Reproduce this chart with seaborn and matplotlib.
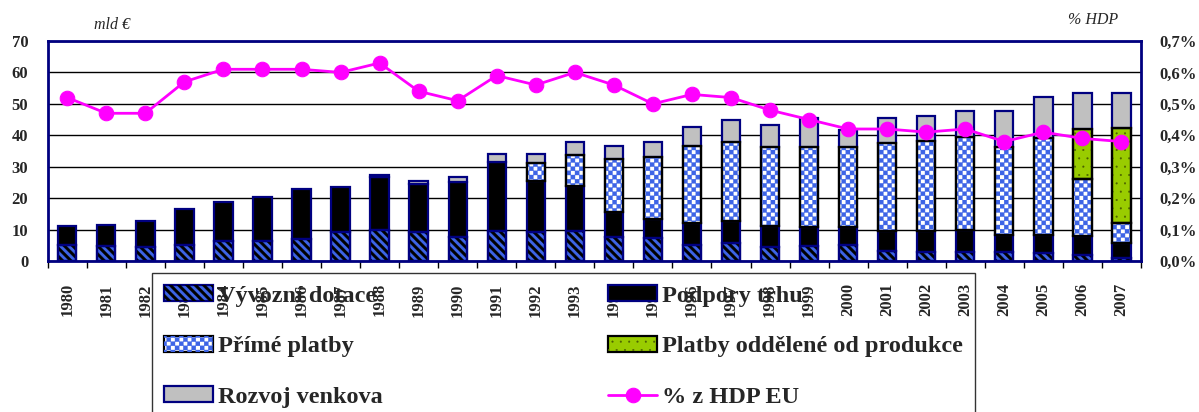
import numpy as np
import matplotlib
matplotlib.use("Agg")
import matplotlib.pyplot as plt
import matplotlib.hatch as mhatch
from matplotlib.path import Path
from matplotlib.legend_handler import HandlerTuple
import seaborn as sns

# ---------------- data ----------------
years = [str(y) for y in range(1980, 2008)]
export_subsidies = [5.1, 4.9, 4.6, 5.0, 6.5, 6.5, 6.9, 9.1, 9.9, 9.3, 7.5, 9.6, 9.3, 9.5,
                    7.7, 7.2, 5.1, 5.6, 4.4, 4.9, 5.0, 3.1, 3.0, 3.0, 2.9, 2.6, 2.0, 0.9]
market_support = [6.0, 6.6, 8.2, 11.4, 12.4, 14.0, 16.0, 14.5, 16.8, 15.1, 17.5, 21.8, 16.3, 14.5,
                  8.0, 6.2, 6.9, 7.2, 6.7, 6.0, 5.8, 6.4, 6.6, 6.9, 5.4, 5.7, 6.0, 4.7]
direct_payments = [0, 0, 0, 0, 0, 0, 0, 0, 0, 0, 0, 0, 5.5, 9.7,
                   16.8, 19.8, 24.7, 25.2, 25.3, 25.5, 25.5, 27.9, 28.7, 29.5, 28.1, 30.7, 18.0, 6.4]
decoupled_payments = [0, 0, 0, 0, 0, 0, 0, 0, 0, 0, 0, 0, 0, 0,
                      0, 0, 0, 0, 0, 0, 0, 0, 0, 0, 0, 0, 15.9, 30.2]
rural_development = [0, 0, 0, 0, 0, 0, 0, 0, 0.6, 1.2, 1.8, 2.5, 2.8, 4.3,
                     4.2, 4.8, 6.0, 6.9, 6.8, 9.0, 5.5, 8.2, 7.8, 8.3, 11.3, 13.3, 11.4, 11.1]
pct_gdp = [0.52, 0.47, 0.47, 0.57, 0.61, 0.61, 0.61, 0.60, 0.63, 0.54, 0.51, 0.59, 0.56, 0.60,
           0.56, 0.50, 0.53, 0.52, 0.48, 0.45, 0.42, 0.42, 0.41, 0.42, 0.38, 0.41, 0.39, 0.38]
series_labels = ["Vývozní dotace", "Podpory trhu", "Přímé platby",
                 "Platby oddělené od produkce", "Rozvoj venkova", "% z HDP EU"]
left_ticks = [0, 10, 20, 30, 40, 50, 60, 70]
right_ticks = [0.0, 0.1, 0.2, 0.3, 0.4, 0.5, 0.6, 0.7]


# ---------------- custom filled hatch patterns ----------------
class CheckerHatch(mhatch.HatchPatternBase):
    """Checkerboard, triggered by 'O'."""
    filled = True

    def __init__(self, hatch, density):
        self.n = int(hatch.count('O') * density)
        self.cells = [(i, j) for i in range(self.n) for j in range(self.n) if (i + j) % 2 == 0]
        self.num_vertices = len(self.cells) * 5

    def set_vertices_and_codes(self, vertices, codes):
        s = 1.0 / self.n
        sq = np.array([[0, 0], [1, 0], [1, 1], [0, 1], [0, 0]], float)
        for k, (i, j) in enumerate(self.cells):
            vertices[5 * k:5 * k + 5] = (sq + [i, j]) * s
            codes[5 * k] = Path.MOVETO
            codes[5 * k + 1:5 * k + 4] = Path.LINETO
            codes[5 * k + 4] = Path.CLOSEPOLY


class StripeHatch(mhatch.HatchPatternBase):
    """Thick filled '\\' stripes, triggered by 'o'."""
    filled = True
    frac = 0.45

    def __init__(self, hatch, density):
        self.n = int(hatch.count('o') * density)
        self.ks = list(range(-2, 2 * self.n + 2)) if self.n else []
        self.num_vertices = len(self.ks) * 5

    def set_vertices_and_codes(self, vertices, codes):
        for m, k in enumerate(self.ks):
            c0 = k / self.n
            c1 = c0 + self.frac / self.n
            vertices[5 * m:5 * m + 5] = [[c0 + 1, -1], [c1 + 1, -1], [-1, c1 + 1],
                                         [-1, c0 + 1], [c0 + 1, -1]]
            codes[5 * m] = Path.MOVETO
            codes[5 * m + 1:5 * m + 4] = Path.LINETO
            codes[5 * m + 4] = Path.CLOSEPOLY


mhatch._hatch_types[mhatch._hatch_types.index(mhatch.LargeCircles)] = CheckerHatch
mhatch._hatch_types[mhatch._hatch_types.index(mhatch.SmallCircles)] = StripeHatch

# ---------------- style ----------------
sns.set_style("white")
plt.rcParams["font.family"] = ["Liberation Serif", "DejaVu Serif"]
plt.rcParams["font.weight"] = "bold"
plt.rcParams["hatch.linewidth"] = 0.25

NAVY = "#000080"
BLUE = "#3D64E6"
GREY = "#C0C0C0"
GREEN = "#99CC00"
MAGENTA = "#FF00FF"

fig = plt.figure(figsize=(11.99, 4.12), dpi=100)
ax = fig.add_axes([0.0398, 0.3665, 0.9118, 0.534])
x = np.arange(len(years))
W = 0.47


def hatched_bar(vals, bottoms, face, edge, hatch=None, hcolor=None, idx=None):
    vals = np.asarray(vals, float)
    bottoms = np.asarray(bottoms, float)
    if idx is None:
        idx = np.arange(len(vals))
    base = ax.bar(x[idx], vals[idx], W, bottom=bottoms[idx], color=face,
                  edgecolor=edge, linewidth=1.6, zorder=2)
    over = None
    if hatch:
        over = ax.bar(x[idx], vals[idx], W, bottom=bottoms[idx], color="none",
                      edgecolor=hcolor, linewidth=0, hatch=hatch, zorder=2.1)
        ax.bar(x[idx], vals[idx], W, bottom=bottoms[idx], color="none",
               edgecolor=edge, linewidth=1.6, zorder=2.2)
    return base, over


b0 = np.zeros(len(years))
b1 = b0 + np.array(export_subsidies)
b2 = b1 + np.array(market_support)
b3 = b2 + np.array(direct_payments)
b4 = b3 + np.array(decoupled_payments)

h_exp = hatched_bar(export_subsidies, b0, BLUE, NAVY, "oo", "black")
h_mkt = hatched_bar(market_support, b1, "black", NAVY)
h_dir = hatched_bar(direct_payments, b2, "white", "black", "OOOO", BLUE,
                    idx=np.nonzero(np.array(direct_payments) > 0)[0])
h_dec = hatched_bar(decoupled_payments, b3, GREEN, "black", "..", "#4A6000",
                    idx=np.nonzero(np.array(decoupled_payments) > 0)[0])
h_rur = hatched_bar(rural_development, b4, GREY, NAVY,
                    idx=np.nonzero(np.array(rural_development) > 0)[0])

ax.set_xlim(-0.5, len(years) - 0.5)
ax.set_ylim(0, 70)
ax.set_yticks(left_ticks)
ax.set_yticklabels([str(t) for t in left_ticks], fontsize=12, fontweight="bold")
ax.set_xticks(x)
ax.set_xticklabels(years, rotation=90, fontsize=12, fontweight="bold")
ax.set_xticks(np.arange(-0.5, len(years)), minor=True)
ax.tick_params(axis="x", which="major", length=0, pad=16, bottom=True)
ax.tick_params(axis="x", which="minor", length=5, width=1, color="black",
               direction="out", bottom=True)
ax.tick_params(axis="y", length=0, pad=14)
ax.yaxis.grid(True, color="black", linewidth=1.0)
ax.xaxis.grid(False)
ax.set_axisbelow(True)
for sp in ax.spines.values():
    sp.set_visible(True)
    sp.set_color(NAVY)
    sp.set_linewidth(2)

ax2 = ax.twinx()
sns.lineplot(x=x, y=pct_gdp, ax=ax2, color=MAGENTA, marker="o", markersize=10.5,
             markeredgecolor=MAGENTA, linewidth=2, legend=False, zorder=5)
ax2.set_ylim(0, 0.7)
ax2.set_yticks(right_ticks)
ax2.set_yticklabels([f"{t:.1f}%".replace(".", ",") for t in right_ticks],
                    fontsize=12, fontweight="bold")
ax2.tick_params(axis="y", length=0, pad=13, right=True)
ax2.set_ylabel("")
for sp in ax2.spines.values():
    sp.set_visible(False)

fig.text(112 / 1199, 1 - 25 / 412, "mld €", style="italic", fontweight="normal",
         fontsize=11.5, ha="center", va="center")
fig.text(1093 / 1199, 1 - 20 / 412, "% HDP", style="italic", fontweight="normal",
         fontsize=11.5, ha="center", va="center")

line_handle = ax2.lines[0]
handles = [(h_exp[0].patches[0], h_exp[1].patches[0]),
           (h_dir[0].patches[0], h_dir[1].patches[0]),
           h_rur[0].patches[0],
           h_mkt[0].patches[0],
           (h_dec[0].patches[0], h_dec[1].patches[0]),
           line_handle]
labels = [series_labels[0], series_labels[2], series_labels[4],
          series_labels[1], series_labels[3], series_labels[5]]
leg = fig.legend(handles, labels, loc="upper left",
                 bbox_to_anchor=(152 / 1199, 1 - 273 / 412), ncol=2, fontsize=17.5,
                 frameon=True, fancybox=False, facecolor="none", edgecolor="black",
                 borderpad=0.5, labelspacing=1.2, handlelength=2.0, handleheight=0.62,
                 handletextpad=0.2, columnspacing=9.3, borderaxespad=0,
                 handler_map={tuple: HandlerTuple(ndivide=1)})
leg.get_frame().set_linewidth(1)

fig.savefig("out.png", dpi=100)
